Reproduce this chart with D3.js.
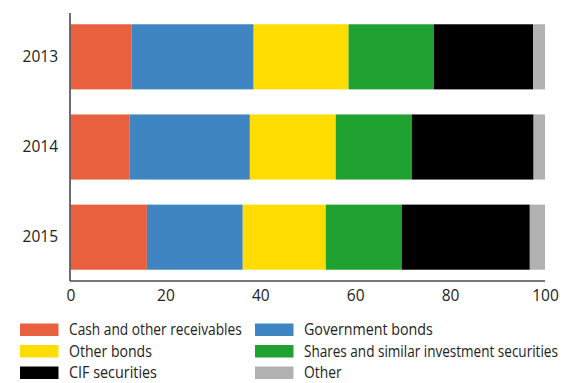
<!DOCTYPE html>
<html>
<head>
<meta charset="utf-8">
<script src="https://cdn.jsdelivr.net/npm/d3@7"></script>
<style>
  html, body { margin: 0; padding: 0; background: #fff; }
  svg { display: block; }
  svg text { font-family: "Open Sans", sans-serif; }
</style>
</head>
<body>
<svg id="chart" width="571" height="383"></svg>
<script>
// Portfolio structure by year (% of total)
const years = ["2013", "2014", "2015"];
const seriesNames = [
  "Cash and other receivables",
  "Government bonds",
  "Other bonds",
  "Shares and similar investment securities",
  "CIF securities",
  "Other"
];
const cashValues       = [12.9, 12.4, 16.1];
const govBondValues    = [25.7, 25.4, 20.2];
const otherBondValues  = [20.0, 18.1, 17.5];
const sharesValues     = [18.0, 16.0, 16.0];
const cifValues        = [20.9, 25.7, 27.0];
const otherValues      = [2.5, 2.4, 3.2];
const xTicks = [0, 20, 40, 60, 80, 100];

const colors = ["#E9603F", "#3E85C1", "#FFDD00", "#1FA22F", "#000000", "#B1B1B2"];

const seriesValues = [cashValues, govBondValues, otherBondValues, sharesValues, cifValues, otherValues];
const rows = years.map((y, i) => {
  const r = { year: y };
  seriesNames.forEach((s, k) => { r[s] = seriesValues[k][i]; });
  return r;
});

const svg = d3.select("#chart");
const x = d3.scaleLinear().domain([0, 100]).range([70.5, 545]);
const y = d3.scaleBand().domain(years).range([13, 281]).paddingInner(0.278).paddingOuter(0.125);

const stack = d3.stack().keys(seriesNames);
const layers = stack(rows);

svg.append("g").selectAll("g")
  .data(layers)
  .join("g")
  .attr("fill", (d, i) => colors[i])
  .selectAll("rect")
  .data(d => d)
  .join("rect")
  .attr("x", d => x(d[0]))
  .attr("width", d => x(d[1]) - x(d[0]))
  .attr("y", d => y(d.data.year))
  .attr("height", y.bandwidth());

// Axes
const axisColor = "#4a4a4a";
const textColor = "#222";

const xAxis = svg.append("g")
  .attr("transform", "translate(0,281)")
  .call(d3.axisBottom(x).tickValues(xTicks).tickSize(0).tickPadding(9).tickFormat(d3.format("d")));
xAxis.attr("font-family", null).attr("font-size", null);
xAxis.select(".domain").attr("stroke", axisColor).attr("stroke-width", 1.6).attr("d", `M${x(0) - 0.5},0H${x(100)}`);
xAxis.selectAll("text").attr("fill", textColor).style("font-size", "15.5px");

const yAxis = svg.append("g")
  .attr("transform", `translate(${x(0) - 0.5},0)`)
  .call(d3.axisLeft(y).tickSize(0).tickPadding(12));
yAxis.attr("font-family", null).attr("font-size", null);
yAxis.select(".domain").attr("stroke", axisColor).attr("stroke-width", 1.6).attr("d", "M0,13V281");
yAxis.selectAll("text").attr("fill", textColor).style("font-size", "15.5px");

// Legend: two columns, three rows
const legendCols = [20, 255];
const legendRows = [329.5, 351, 372.5];
const legendTextWidths = [173, 129, 83, 254, 88, 37.6];
const legend = svg.append("g");
seriesNames.forEach((name, i) => {
  const col = i % 2, row = Math.floor(i / 2);
  const g = legend.append("g").attr("transform", `translate(${legendCols[col]},${legendRows[row]})`);
  g.append("rect").attr("x", 0).attr("y", -6).attr("width", 38.5).attr("height", 12.5).attr("fill", colors[i]);
  const t = g.append("text")
    .attr("x", 49)
    .attr("y", 5.5)
    .attr("fill", textColor)
    .style("font-size", "15.5px")
    .text(name);
  const natural = t.node().getComputedTextLength();
  const target = legendTextWidths[i];
  t.attr("transform", `translate(49,0) scale(${target / natural},1) translate(-49,0)`);
});
</script>
</body>
</html>
